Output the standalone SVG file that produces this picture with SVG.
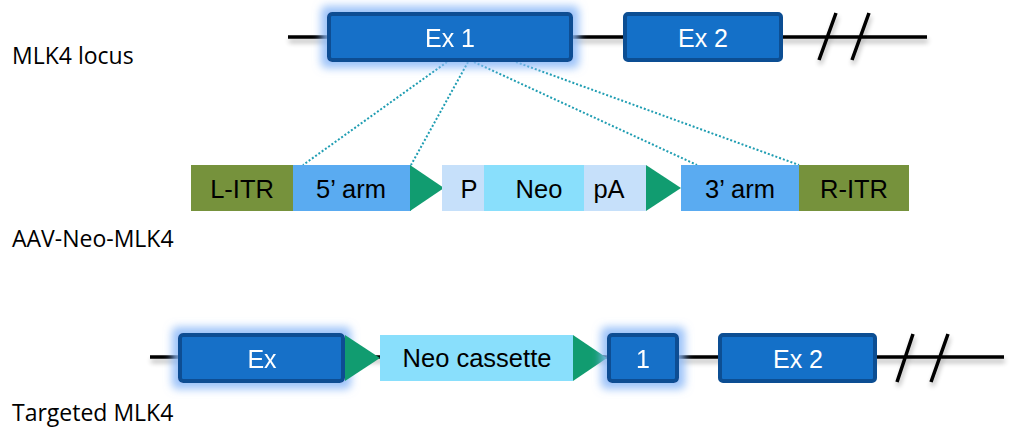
<svg xmlns="http://www.w3.org/2000/svg" width="1012" height="434" viewBox="0 0 1012 434">
<defs>
<filter id="glow" x="-30%" y="-70%" width="160%" height="240%">
<feMorphology in="SourceAlpha" operator="dilate" radius="6" result="d"/>
<feGaussianBlur in="d" stdDeviation="4.5" result="b"/>
<feFlood flood-color="#8ab8f8" flood-opacity="0.85"/>
<feComposite in2="b" operator="in" result="g"/>
<feMerge><feMergeNode in="g"/><feMergeNode in="SourceGraphic"/></feMerge>
</filter>
<filter id="shadow" x="-5%" y="-50%" width="110%" height="250%">
<feGaussianBlur in="SourceAlpha" stdDeviation="2.5"/>
<feOffset dx="1" dy="4" result="o"/>
<feComponentTransfer in="o" result="s"><feFuncA type="linear" slope="0.3"/></feComponentTransfer>
<feMerge><feMergeNode in="s"/><feMergeNode in="SourceGraphic"/></feMerge>
</filter>
</defs>
<style>
.line{stroke:#000;stroke-width:3.5;fill:none}
.ex{fill:#1470c8;stroke:#0c4e93;stroke-width:4}
.wt{font-family:"Liberation Sans",Arial,sans-serif;font-size:25px;fill:#fff;text-anchor:middle}
.bt{font-family:"Liberation Sans",Arial,sans-serif;font-size:25.5px;fill:#000;text-anchor:middle}
.lbl{font-family:"Open Sans","Liberation Sans",sans-serif;font-size:23px;fill:#000}
.dot{stroke:#1f9db2;stroke-width:2;stroke-dasharray:2 2;fill:none}
.tri{fill:#119c70}
</style>
<g id="labels">
<text class="lbl" x="12" y="64">MLK4 locus</text>
<text class="lbl" x="12" y="247">AAV-Neo-MLK4</text>
<text class="lbl" x="12" y="421">Targeted MLK4</text>
</g>
<g id="connectors">
<g filter="url(#shadow)">
<path class="line" d="M288 37H927 M836 13L819 60 M869 13L852 60"/>
<path class="line" d="M150 357H1004 M913 334L897 382 M948 334L931 382"/>
</g>
<path class="dot" d="M447 62L303 165 M468 62L411 165 M474 62L697 165 M516 62L799 165"/>
</g>
<g id="ex1" filter="url(#glow)">
<rect class="ex" x="329" y="14" width="242" height="46" rx="3"/>
<text class="wt" x="450" y="47">Ex 1</text>
</g>
<g id="ex2">
<rect class="ex" x="625" y="14" width="156" height="46" rx="3"/>
<text class="wt" x="703" y="47">Ex 2</text>
</g>
<g id="litr">
<rect x="191" y="165" width="102" height="46" fill="#76923c"/>
<text class="bt" x="242" y="198">L-ITR</text>
</g>
<g id="arm5">
<rect x="293" y="165" width="118" height="46" fill="#5aabf1"/>
<text class="bt" x="351" y="198">5’ arm</text>
</g>
<g id="tri1"><polygon class="tri" points="410,165 444,188 410,211"/></g>
<g id="p">
<rect x="442" y="165" width="42" height="46" fill="#c6e0fa"/>
<text class="bt" x="469" y="198">P</text>
</g>
<g id="neo">
<rect x="484" y="165" width="100" height="46" fill="#89dffc"/>
<text class="bt" x="539" y="198">Neo</text>
</g>
<g id="pa">
<rect x="584" y="165" width="62" height="46" fill="#c6e0fa"/>
<text class="bt" x="609" y="198">pA</text>
</g>
<g id="tri2"><polygon class="tri" points="646,165 681,188 646,211"/></g>
<g id="arm3">
<rect x="681" y="165" width="118" height="46" fill="#5aabf1"/>
<text class="bt" x="740" y="198">3’ arm</text>
</g>
<g id="ritr">
<rect x="799" y="165" width="110" height="46" fill="#76923c"/>
<text class="bt" x="854" y="198">R-ITR</text>
</g>
<g id="exb" filter="url(#glow)">
<rect class="ex" x="180" y="335" width="163" height="46" rx="3"/>
<text class="wt" x="262" y="368">Ex</text>
</g>
<g id="tri3"><polygon class="tri" points="345,335 380,358 345,381"/></g>
<g id="neocassette">
<rect x="380" y="335" width="193" height="46" fill="#89dffc"/>
<text class="bt" x="477" y="367">Neo cassette</text>
</g>
<g id="tri4"><polygon class="tri" points="573,335 607,358 573,381"/></g>
<g id="ex1b" filter="url(#glow)">
<rect class="ex" x="609" y="335" width="68" height="46" rx="3"/>
<text class="wt" x="643" y="368">1</text>
</g>
<g id="ex2b">
<rect class="ex" x="720" y="335" width="155" height="46" rx="3"/>
<text class="wt" x="798" y="368">Ex 2</text>
</g>
</svg>
